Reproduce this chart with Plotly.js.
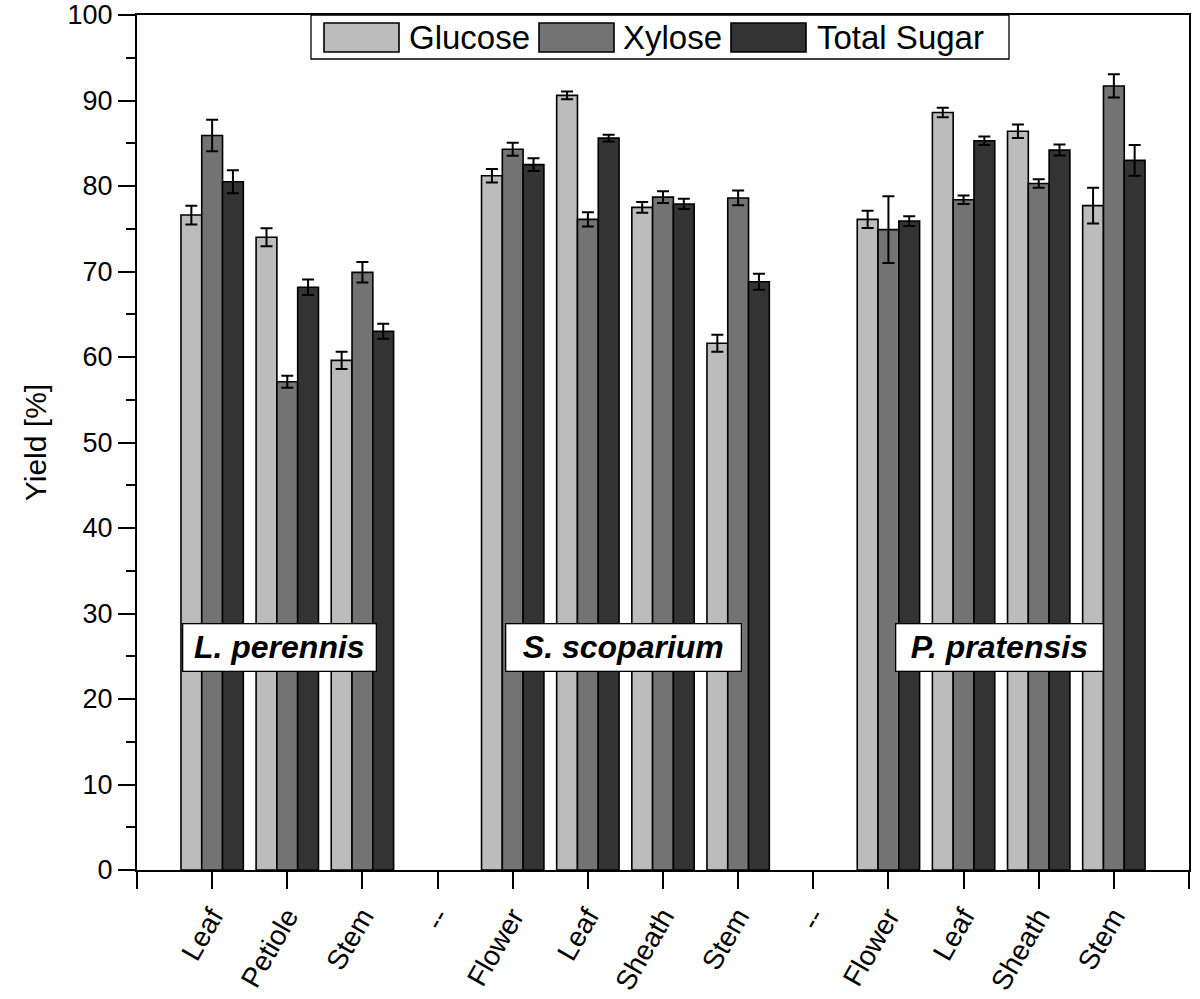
<!DOCTYPE html>
<html>
<head>
<meta charset="utf-8">
<script src="https://cdn.plot.ly/plotly-3.0.1.min.js"></script>
<style>html,body{margin:0;padding:0;background:#fff;}</style>
</head>
<body>
<div id="chart" style="width:1200px;height:999px;"></div>
<script>
// Category tick labels (-- are empty separators)
const categories = ["Leaf","Petiole","Stem","--","Flower","Leaf","Sheath","Stem","--","Flower","Leaf","Sheath","Stem"];
const seriesNames = ["Glucose","Xylose","Total Sugar"];
const glucose    = [76.6, 74.0, 59.6, null, 81.2, 90.6, 77.5, 61.6, null, 76.1, 88.6, 86.4, 77.7];
const glucoseErr = [1.1, 1.05, 1.0, null, 0.8, 0.45, 0.64, 1.0, null, 1.0, 0.55, 0.8, 2.1];
const xylose     = [85.9, 57.1, 69.9, null, 84.3, 76.1, 78.7, 78.6, null, 74.9, 78.4, 80.3, 91.7];
const xyloseErr  = [1.85, 0.7, 1.2, null, 0.76, 0.84, 0.68, 0.86, null, 3.9, 0.5, 0.5, 1.36];
const total      = [80.5, 68.15, 63.0, null, 82.5, 85.6, 77.9, 68.8, null, 75.9, 85.3, 84.2, 83.0];
const totalErr   = [1.35, 0.9, 0.88, null, 0.76, 0.4, 0.6, 0.94, null, 0.57, 0.5, 0.64, 1.8];
const species = ["L. perennis","S. scoparium","P. pratensis"];
const speciesCenter = [0.9, 5.48, 10.48];
const speciesLabelY = 26;

const colors = ["#bcbcbc", "#737373", "#333333"];
const font = "Liberation Sans, Arial, sans-serif";
const xs = categories.map((c, i) => i);

function barTrace(name, y, err, color) {
  return {
    type: "bar", name: name, x: xs, y: y,
    marker: {color: color, line: {color: "#000", width: 1.6}},
    error_y: {type: "data", array: err, visible: true, color: "#000", thickness: 2, width: 6},
    showlegend: false
  };
}
const data = [
  barTrace(seriesNames[0], glucose, glucoseErr, colors[0]),
  barTrace(seriesNames[1], xylose, xyloseErr, colors[1]),
  barTrace(seriesNames[2], total, totalErr, colors[2])
];

const tickvals = [-1].concat(xs, [categories.length]);
const ticktext = [""].concat(categories, [""]);

// custom legend (paper coords)
const px = v => (v - 137) / 1052;
const py = v => (870 - v) / 855;
const swX = [[324, 399], [539, 614], [731, 806]];
const txX = [407, 621, 815];
const shapes = [{
  type: "rect", xref: "paper", yref: "paper", x0: px(311), x1: px(1009), y0: py(59), y1: py(15),
  fillcolor: "#fff", line: {color: "#000", width: 1.3}, layer: "above"
}];
const annotations = [];
seriesNames.forEach((n, i) => {
  shapes.push({type: "rect", xref: "paper", yref: "paper", x0: px(swX[i][0]), x1: px(swX[i][1]),
    y0: py(52), y1: py(23), fillcolor: colors[i], line: {color: "#000", width: 1.6}, layer: "above"});
  annotations.push({xref: "paper", yref: "paper", x: px(txX[i]), y: py(37.5), xanchor: "left", yanchor: "middle",
    text: n, showarrow: false, font: {family: font, size: 33, color: "#000"}});
});
const boxW = [192, 234, 206];
species.forEach((s, i) => {
  annotations.push({xref: "x", yref: "y", x: speciesCenter[i], y: speciesLabelY, text: "<b><i>" + s + "</i></b>",
    showarrow: false, font: {family: font, size: 32, color: "#000"}, bgcolor: "#fff",
    bordercolor: "#000", borderwidth: 1.3, borderpad: 0, width: boxW[i], height: 46});
});

const layout = {
  width: 1200, height: 999,
  margin: {l: 137, r: 11, t: 15, b: 129},
  paper_bgcolor: "#fff", plot_bgcolor: "#fff",
  barmode: "group", bargap: 0.17, bargroupgap: 0,
  font: {family: font, color: "#000"},
  xaxis: {
    range: [-1, categories.length], tickmode: "array", tickvals: tickvals, ticktext: ticktext,
    tickangle: -60, tickfont: {family: font, size: 28, color: "#000"},
    ticks: "outside", ticklen: 17, tickwidth: 2, tickcolor: "#000",
    showline: true, linecolor: "#000", linewidth: 2, mirror: true,
    showgrid: false, zeroline: false, fixedrange: true
  },
  yaxis: {
    range: [0, 100], dtick: 10, tick0: 0,
    tickfont: {family: font, size: 27, color: "#000"}, ticklabeloverflow: "allow",
    ticks: "outside", ticklen: 17, tickwidth: 2, tickcolor: "#000",
    minor: {dtick: 5, ticks: "outside", ticklen: 9, tickwidth: 2, tickcolor: "#000", showgrid: false},
    showline: true, linecolor: "#000", linewidth: 2, mirror: true,
    showgrid: false, zeroline: false,
    title: {text: "Yield [%]", font: {family: font, size: 30, color: "#000"}, standoff: 12}
  },
  shapes: shapes,
  annotations: annotations,
  showlegend: false
};

Plotly.newPlot("chart", data, layout, {displayModeBar: false, staticPlot: true});
</script>
</body>
</html>
